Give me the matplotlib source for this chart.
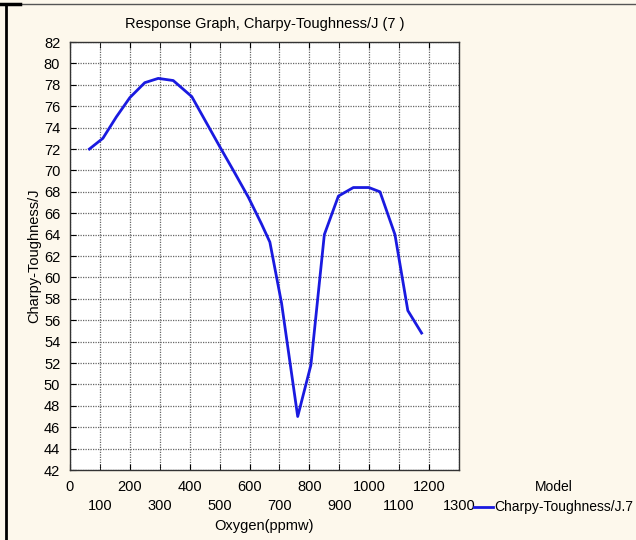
import matplotlib.pyplot as plt
from matplotlib.lines import Line2D

# Response graph values
oxygen = [65, 110, 155, 200, 250, 295, 345, 407, 455, 501, 550, 596, 640, 668,
          707, 761, 805, 850, 897, 947, 999, 1036, 1086, 1129, 1175]
toughness = [72.0, 73.0, 75.0, 76.8, 78.2, 78.6, 78.4, 76.9, 74.5, 72.2, 69.8, 67.5,
             65.0, 63.3, 57.6, 47.0, 51.8, 64.0, 67.6, 68.4, 68.4, 68.0, 64.0, 56.9, 54.8]

x_even = list(range(0, 1300, 200))
x_odd = list(range(100, 1400, 200))
y_ticks = list(range(42, 84, 2))

plt.rcParams["font.family"] = ["Liberation Sans", "DejaVu Sans"]

fig = plt.figure(figsize=(6.36, 5.4), dpi=100, facecolor="#fdf8ec")
ax = fig.add_axes([0.110, 0.1296, 0.6117, 0.7926])
ax.set_facecolor("white")

ax.plot(oxygen, toughness, color="#1a1ae0", linewidth=2, label="Charpy-Toughness/J.7")

ax.set_xlim(0, 1300)
ax.set_ylim(42, 82)
# staggered x labels: even hundreds on the first row, odd ones below
ax.set_xticks(x_even)
ax.set_xticks(x_odd, minor=True)
ax.set_xticklabels([str(v) for v in x_even])
ax.set_xticklabels([str(v) for v in x_odd], minor=True)
ax.set_yticks(y_ticks)
ax.tick_params(which="both", direction="in", length=4, top=True, right=False,
               labelsize=10.5, pad=7)
ax.tick_params(axis="x", which="minor", pad=21)
ax.grid(True, which="both", color="#666666", linestyle=(0, (1, 1)), linewidth=0.9)
for s in ax.spines.values():
    s.set_color("#333333")
    s.set_linewidth(1.0)

ax.set_title("Response Graph, Charpy-Toughness/J (7 )", fontsize=10.5, pad=10)
ax.set_xlabel("Oxygen(ppmw)", fontsize=10.5, labelpad=4)
ax.set_ylabel("Charpy-Toughness/J", fontsize=10.5, labelpad=2)

leg = fig.legend(handles=[Line2D([], [], color="#1a1ae0", linewidth=2)],
                 labels=["Charpy-Toughness/J.7"], title="Model", loc="upper left",
                 bbox_to_anchor=(0.745, 0.112), frameon=False, fontsize=10,
                 title_fontsize=10, handlelength=1.4, handletextpad=0.1,
                 borderpad=0, borderaxespad=0)

# frame lines of the original screenshot
fig.add_artist(Line2D([6 / 636, 6 / 636], [0, 1 - 4 / 540], color="black", linewidth=2,
                      transform=fig.transFigure))
fig.add_artist(Line2D([0, 1], [1 - 4 / 540, 1 - 4 / 540], color="#555555", linewidth=1,
                      transform=fig.transFigure))
fig.add_artist(Line2D([0, 20 / 636], [1 - 4 / 540, 1 - 4 / 540], color="black", linewidth=2.5,
                      transform=fig.transFigure))

plt.savefig("out.png", dpi=100, facecolor=fig.get_facecolor())
plt.close()
